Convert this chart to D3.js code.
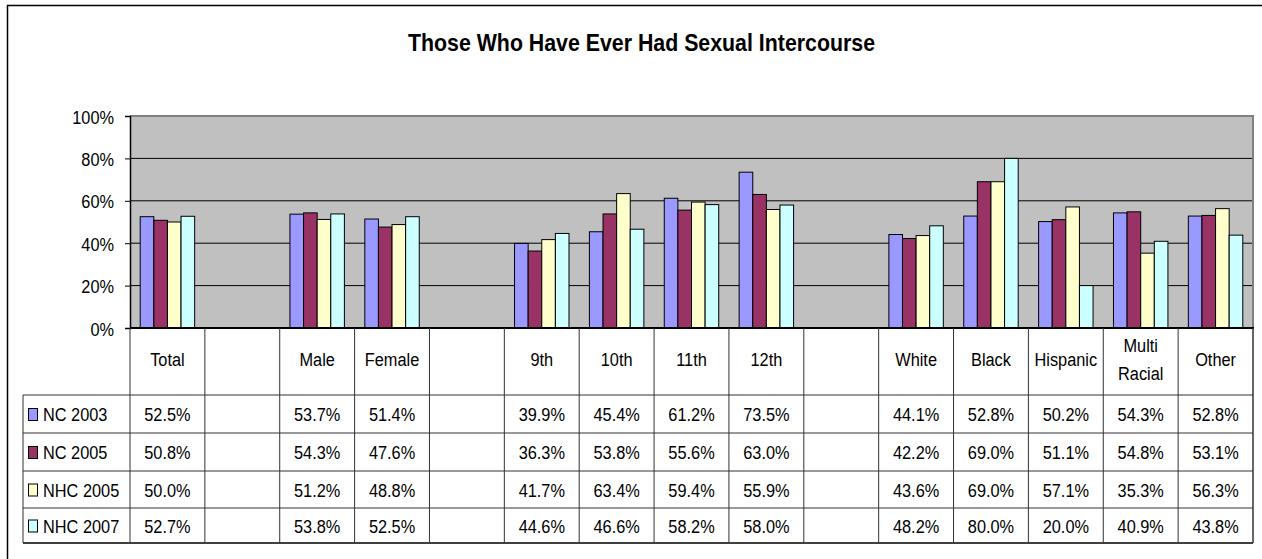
<!DOCTYPE html>
<html>
<head>
<meta charset="utf-8">
<script src="https://cdn.jsdelivr.net/npm/d3@7"></script>
<style>
  html, body { margin: 0; padding: 0; background: #fff; }
  svg { display: block; font-family: "Liberation Sans", Arial, sans-serif; }
</style>
</head>
<body>
<svg id="chart" width="1262" height="559"></svg>
<script>
// ---------- data ----------
const title = "Those Who Have Ever Had Sexual Intercourse";
const categories = ["Total", "", "Male", "Female", "", "9th", "10th", "11th", "12th", "", "White", "Black", "Hispanic", "Multi\nRacial", "Other"];
const seriesNames = ["NC 2003", "NC 2005", "NHC 2005", "NHC 2007"];
const seriesColors = ["#9999FF", "#993366", "#FFFFCC", "#CCFFFF"];
const nc2003  = [52.5, null, 53.7, 51.4, null, 39.9, 45.4, 61.2, 73.5, null, 44.1, 52.8, 50.2, 54.3, 52.8];
const nc2005  = [50.8, null, 54.3, 47.6, null, 36.3, 53.8, 55.6, 63.0, null, 42.2, 69.0, 51.1, 54.8, 53.1];
const nhc2005 = [50.0, null, 51.2, 48.8, null, 41.7, 63.4, 59.4, 55.9, null, 43.6, 69.0, 57.1, 35.3, 56.3];
const nhc2007 = [52.7, null, 53.8, 52.5, null, 44.6, 46.6, 58.2, 58.0, null, 48.2, 80.0, 20.0, 40.9, 43.8];
const seriesValues = [nc2003, nc2005, nhc2005, nhc2007];
const yTicks = [0, 20, 40, 60, 80, 100];

// ---------- layout ----------
const svg = d3.select("#chart");
const plotL = 130, plotR = 1253, plotT = 116, plotB = 328;
const legendL = 23;
const rowLines = [328, 395, 433, 471, 508, 543];
const FONT = 19, SX = 0.86;

// condensed text helper
function ctext(g, x, y, str, anchor) {
  return g.append("text")
    .attr("transform", `translate(${x},${y}) scale(${SX},1)`)
    .attr("text-anchor", anchor || "start")
    .attr("font-size", FONT).attr("fill", "#000").text(str);
}

const catIds = categories.map((c, i) => i);
const x0 = d3.scaleBand().domain(catIds).range([plotL, plotR]).padding(0);
const x1 = d3.scaleBand().domain(d3.range(seriesNames.length))
  .range([0, x0.bandwidth()]).paddingInner(0).paddingOuter(0.75);
const y = d3.scaleLinear().domain([0, 100]).range([plotB, plotT]);

// outer frame
svg.append("rect").attr("x", 7.5).attr("y", 5.5).attr("width", 1262).attr("height", 600)
  .attr("fill", "none").attr("stroke", "#000").attr("stroke-width", 1.5);

// title
svg.append("text").attr("x", 641.5).attr("y", 51)
  .attr("text-anchor", "middle").attr("font-weight", "bold").attr("font-size", 24)
  .attr("textLength", 467).attr("lengthAdjust", "spacingAndGlyphs")
  .text(title);

// plot background
svg.append("rect").attr("x", plotL).attr("y", plotT)
  .attr("width", plotR - plotL).attr("height", plotB - plotT).attr("fill", "#C0C0C0");

// gridlines
svg.append("g").selectAll("line").data(yTicks.filter(t => t > 0 && t < 100)).join("line")
  .attr("x1", plotL).attr("x2", plotR).attr("y1", d => y(d)).attr("y2", d => y(d))
  .attr("stroke", "#000").attr("stroke-width", 1);

// plot border top/right (gray)
svg.append("path")
  .attr("d", `M${plotL},${plotT}H${plotR}V${plotB}`)
  .attr("fill", "none").attr("stroke", "#808080").attr("stroke-width", 2);

// y axis
const yAxis = d3.axisLeft(y).tickValues(yTicks).tickFormat("").tickSize(5);
const gy = svg.append("g").attr("transform", `translate(${plotL},0)`).call(yAxis);
gy.select(".domain").attr("stroke", "#000").attr("stroke-width", 1.5);
gy.selectAll(".tick line").attr("stroke", "#000");
gy.selectAll(".tick").each(function(d) {
  ctext(d3.select(this), -16, 7, d + "%", "end");
});

// bars
const barG = svg.append("g");
seriesValues.forEach((vals, s) => {
  barG.append("g").selectAll("rect")
    .data(vals.map((v, i) => ({ v, i })).filter(d => d.v !== null))
    .join("rect")
    .attr("x", d => x0(d.i) + x1(s))
    .attr("y", d => y(d.v))
    .attr("width", x1.bandwidth())
    .attr("height", d => plotB - y(d.v))
    .attr("fill", seriesColors[s])
    .attr("stroke", "#000").attr("stroke-width", 1);
});

// x axis line
svg.append("line").attr("x1", plotL).attr("x2", plotR + 1).attr("y1", plotB).attr("y2", plotB)
  .attr("stroke", "#000").attr("stroke-width", 2);

// ---------- data table ----------
const tbl = svg.append("g");
const gridColor = "#333";
rowLines.slice(1).forEach((ly, k) => {
  const last = k === rowLines.length - 2;
  tbl.append("line").attr("x1", legendL).attr("x2", plotR).attr("y1", ly).attr("y2", ly)
    .attr("stroke", last ? "#000" : gridColor).attr("stroke-width", last ? 1.5 : 1);
});
const bounds = catIds.map(i => x0(i)).concat([plotR]);
bounds.forEach(bx => {
  tbl.append("line").attr("x1", bx).attr("x2", bx).attr("y1", plotB).attr("y2", rowLines[rowLines.length - 1])
    .attr("stroke", gridColor).attr("stroke-width", bx === plotR ? 1.5 : 1);
});
tbl.append("line").attr("x1", legendL).attr("x2", legendL)
  .attr("y1", rowLines[1]).attr("y2", rowLines[rowLines.length - 1])
  .attr("stroke", gridColor).attr("stroke-width", 1);

// header labels
categories.forEach((c, i) => {
  if (!c) return;
  const cx = x0(i) + x0.bandwidth() / 2;
  const lines = c.split("\n");
  if (lines.length === 1) {
    ctext(tbl, cx, 366, c, "middle");
  } else {
    lines.forEach((ln, k) => ctext(tbl, cx, 352 + k * 28, ln, "middle"));
  }
});

// rows
seriesNames.forEach((name, s) => {
  const top = rowLines[s + 1], bot = rowLines[s + 2];
  const cy = (top + bot) / 2;
  tbl.append("rect").attr("x", 28.5).attr("y", cy - 5.5).attr("width", 9).attr("height", 12)
    .attr("fill", seriesColors[s]).attr("stroke", "#000").attr("stroke-width", 1);
  ctext(tbl, 43, cy + 7, name, "start");
  seriesValues[s].forEach((v, i) => {
    if (v === null) return;
    ctext(tbl, x0(i) + x0.bandwidth() / 2, cy + 7, v.toFixed(1) + "%", "middle");
  });
});
</script>
</body>
</html>
